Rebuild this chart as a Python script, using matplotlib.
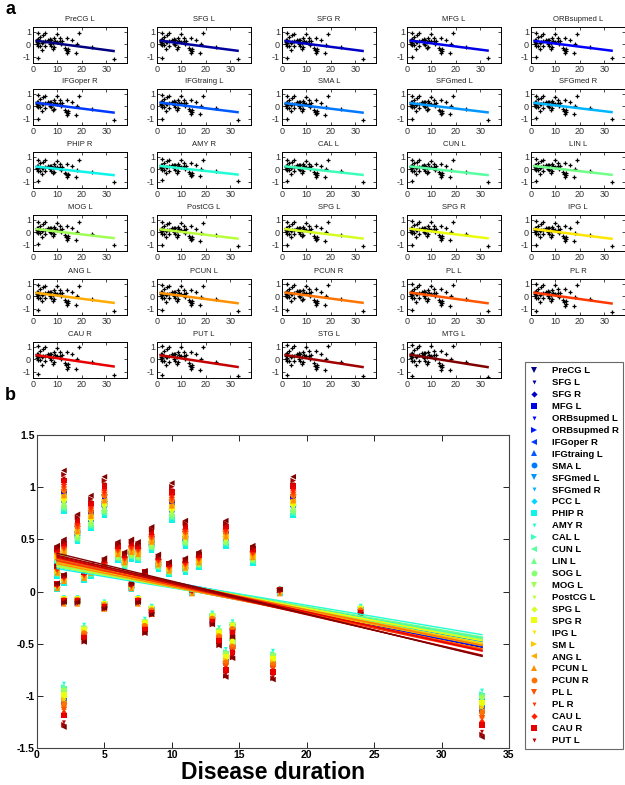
import numpy as np
import matplotlib
matplotlib.use('Agg')
import matplotlib.pyplot as plt
from matplotlib.lines import Line2D
from matplotlib.ticker import FuncFormatter

plt.rcParams['font.family'] = ['Liberation Sans', 'DejaVu Sans']
plt.rcParams['axes.unicode_minus'] = False

# Disease duration of each subject and the subject's (average) score
duration = [1.5, 1.5, 1.5, 2, 2, 2, 2, 2, 3, 3, 3.5, 3.5, 4, 4, 5, 5, 5, 6, 6.5,
            7, 7, 7.5, 7.5, 8, 8, 8.5, 8.5, 9, 9.8, 10, 11, 11, 11.5, 12, 13,
            13.5, 14, 14, 14.5, 14.5, 16, 17.5, 18, 19, 24, 33]
score = [0.35, 0.2, 0.05, 0.95, 0.4, 0.12, -0.1, -1.1, 0.6, -0.1, 0.15, -0.42,
         0.75, 0.2, 0.9, 0.25, -0.15, 0.38, 0.3, 0.4, 0.05, 0.38, -0.1, 0.15,
         -0.35, 0.5, -0.2, 0.28, 0.22, 0.85, 0.55, 0.25, 0.0, 0.3, -0.28, -0.45,
         0.55, -0.7, -0.38, -0.55, 0.35, -0.72, 0.0, 0.9, -0.2, -1.18]

# regions (legend order), the last two only appear in the panels
regions = ['PreCG L', 'SFG L', 'SFG R', 'MFG L', 'ORBsupmed L', 'ORBsupmed R',
           'IFGoper R', 'IFGtraing L', 'SMA L', 'SFGmed L', 'SFGmed R', 'PCC L',
           'PHIP R', 'AMY R', 'CAL L', 'CUN L', 'LIN L', 'SOG L', 'MOG L',
           'PostCG L', 'SPG L', 'SPG R', 'IPG L', 'SM L', 'ANG L', 'PCUN L',
           'PCUN R', 'PL L', 'PL R', 'CAU L', 'CAU R', 'PUT L', 'STG L', 'MTG L']
n_legend = 32
gain = [1.0, 0.98, 0.97, 0.97, 0.95, 0.95, 0.95, 0.93, 0.92, 0.9, 0.9, 0.85,
        0.83, 0.83, 0.83, 0.84, 0.85, 0.86, 0.88, 0.9, 0.92, 0.92, 0.94, 0.95,
        0.97, 0.99, 1.0, 1.03, 1.05, 1.07, 1.1, 1.14, 1.17, 1.2]
shift = [0.0, 0.01, -0.01, 0.02, 0.0, -0.02, 0.01, 0.03, -0.01, 0.0, 0.02, 0.01,
         -0.02, 0.03, 0.0, -0.01, 0.02, 0.0, 0.01, -0.02, 0.0, 0.02, -0.01, 0.01,
         0.0, -0.02, 0.02, 0.0, -0.01, 0.01, 0.02, 0.0, 0.01, 0.02]

panels = ['PreCG L', 'SFG L', 'SFG R', 'MFG L', 'ORBsupmed L',
          'IFGoper R', 'IFGtraing L', 'SMA L', 'SFGmed L', 'SFGmed R',
          'PHIP R', 'AMY R', 'CAL L', 'CUN L', 'LIN L',
          'MOG L', 'PostCG L', 'SPG L', 'SPG R', 'IPG L',
          'ANG L', 'PCUN L', 'PCUN R', 'PL L', 'PL R',
          'CAU R', 'PUT L', 'STG L', 'MTG L']

x = np.array(duration)
base = np.array(score)
values = {r: base * g + s for r, g, s in zip(regions, gain, shift)}
colors = plt.cm.jet(np.linspace(0, 1, len(regions)))
markers = ['v', 'v', 'D', 's', 'v', '>', '<', '^', 'o']
msizes = [22, 8, 10, 16, 8, 16, 16, 16, 18]

W, H = 625, 785
fig = plt.figure(figsize=(W / 100, H / 100), dpi=100)

def fit(r):
    k, b = np.polyfit(x, values[r], 1)
    xs = np.array([x.min(), x.max()])
    return xs, k * xs + b

# ---- panel a: small multiples
lefts = [33, 157, 282, 407, 531]
tops = [27, 89, 152, 215, 279, 342]
for i, name in enumerate(panels):
    row, col = divmod(i, 5)
    ax = fig.add_axes([lefts[col] / W, 1 - (tops[row] + 36) / H, 94 / W, 36 / H])
    ci = regions.index(name)
    ax.plot(x, values[name], '+', color='k', ms=2.5, mew=0.9)
    xs, ys = fit(name)
    ax.plot(xs, ys, color=colors[ci], lw=1.8)
    ax.set_xlim(0, 38.5)
    ax.set_ylim(-1.5, 1.4)
    ax.set_xticks([0, 10, 20, 30])
    ax.set_yticks([-1, 0, 1])
    ax.tick_params(direction='in', length=2, width=0.5, labelsize=6.5,
                   labelcolor='#333333', pad=1.5, top=True, right=True)
    for sp in ax.spines.values():
        sp.set_linewidth(0.7)
    ax.set_title(name, fontsize=5.5, pad=4, color='#222222')

# ---- panel b: all regions together
ax = fig.add_axes([37 / W, 1 - 748 / H, 472 / W, 313 / H])
for i, r in enumerate(regions):
    ax.scatter(x, values[r], marker=markers[i % 9], s=msizes[i % 9],
               color=colors[i], edgecolors='none', zorder=2)
for i, r in enumerate(regions):
    xs, ys = fit(r)
    ax.plot(xs, ys, color=colors[i], lw=1.0, zorder=3)
ax.set_xlim(0, 35)
ax.set_ylim(-1.5, 1.5)
ax.set_xticks(np.arange(0, 36, 5))
ax.set_yticks(np.arange(-1.5, 1.6, 0.5))
ax.yaxis.set_major_formatter(FuncFormatter(lambda v, p: '%g' % v))
ax.tick_params(direction='in', length=4, width=0.6, labelsize=7.5,
               top=True, right=True, pad=1.5)
for lab in ax.get_xticklabels() + ax.get_yticklabels():
    lab.set_fontweight('bold')
for sp in ax.spines.values():
    sp.set_linewidth(0.8)
    sp.set_color('#444444')
ax.set_xlabel('Disease duration', fontsize=16.5, fontweight='bold', labelpad=0.5)

handles = [Line2D([], [], ls='none', marker=markers[i % 9], color=colors[i],
                  markersize=np.sqrt(msizes[i % 9]), markeredgewidth=0)
           for i in range(n_legend)]
leg = fig.legend(handles, regions[:n_legend], loc='upper left',
                 bbox_to_anchor=(525 / W, 1 - 362 / H),
                 prop={'size': 6.8, 'weight': 'bold'}, frameon=True,
                 fancybox=False, edgecolor='#444444', handlelength=1.0,
                 handletextpad=1.4, labelspacing=0.31, borderpad=0.45,
                 borderaxespad=0)
leg.get_frame().set_linewidth(0.8)

fig.text(5 / W, 1 - 10 / H, 'a', fontsize=13, fontweight='bold', va='center')
fig.text(5 / W, 1 - 396 / H, 'b', fontsize=13, fontweight='bold', va='center')

fig.savefig('out.png', dpi=100)
